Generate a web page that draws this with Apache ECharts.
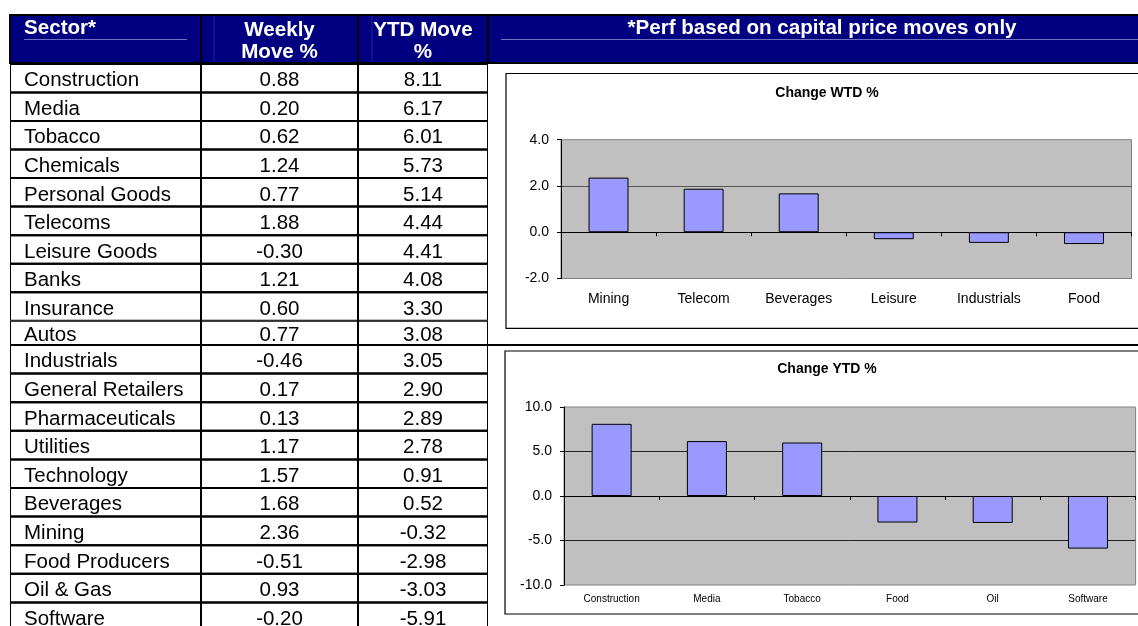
<!DOCTYPE html>
<html><head><meta charset="utf-8">
<script src="https://cdn.jsdelivr.net/npm/echarts@6/dist/echarts.min.js"></script>
<style>html,body{margin:0;padding:0;background:#fff}#c{width:1138px;height:626px}</style>
</head><body><div id="c"></div>
<script>
// ---------- data ----------
const sectors = ['Construction','Media','Tobacco','Chemicals','Personal Goods','Telecoms','Leisure Goods','Banks','Insurance','Autos','Industrials','General Retailers','Pharmaceuticals','Utilities','Technology','Beverages','Mining','Food Producers','Oil & Gas','Software'];
const weeklyMove = [0.88,0.20,0.62,1.24,0.77,1.88,-0.30,1.21,0.60,0.77,-0.46,0.17,0.13,1.17,1.57,1.68,2.36,-0.51,0.93,-0.20];
const ytdMove = [8.11,6.17,6.01,5.73,5.14,4.44,4.41,4.08,3.30,3.08,3.05,2.90,2.89,2.78,0.91,0.52,-0.32,-2.98,-3.03,-5.91];
const tableHeaders = ['Sector*', 'Weekly\nMove %', 'YTD Move\n%'];
const noteText = '*Perf based on capital price moves only';

const wtdTitle = 'Change WTD %';
const wtdCategories = ['Mining','Telecom','Beverages','Leisure','Industrials','Food'];
const wtdValues = [2.36,1.88,1.68,-0.30,-0.46,-0.51];
const wtdAxis = {min:-2, max:4, interval:2};

const ytdTitle = 'Change YTD %';
const ytdCategories = ['Construction','Media','Tobacco','Food','Oil','Software'];
const ytdValues = [8.11,6.17,6.01,-2.98,-3.03,-5.91];
const ytdAxis = {min:-10, max:10, interval:5};

// ---------- layout ----------
const FF = '"Liberation Sans", Arial, Helvetica, sans-serif';
const H = 626;
const tableLeft = 10, tableWidth = 478;
const colFrac = [0, 191/478, 348/478, 1];
// row blocks: [firstRow, endRow, top, bottom]
const blocks = [[0, 9, 64, 320.7], [9, 10, 320.7, 345], [10, 20, 345, 631]];

const chart = echarts.init(document.getElementById('c'), null, {renderer:'canvas'});

function tableRenderItem(params, api) {
  const local = api.value(1);
  const g = api.value(2);
  const c = api.coord([0, local]);
  const h = api.size([0, 1])[1];
  const cs = params.coordSys;
  const top = c[1] - h / 2;
  const texts = [sectors[g], weeklyMove[g].toFixed(2), ytdMove[g].toFixed(2)];
  const children = [];
  for (let k = 0; k < 3; k++) {
    const x0 = cs.x + cs.width * colFrac[k], x1 = cs.x + cs.width * colFrac[k + 1];
    children.push({type:'rect', shape:{x:x0, y:top, width:x1 - x0, height:h},
      style:{fill:'none', stroke:'#000', lineWidth:2}});
    children.push({type:'text', style:{text:texts[k], x: k === 0 ? x0 + 14 : (x0 + x1) / 2, y: c[1] + 2.5,
      align: k === 0 ? 'left' : 'center', verticalAlign:'middle', font:'20.5px ' + FF, fill:'#000'}});
  }
  return {type:'group', children};
}

const grids = [], xAxes = [], yAxes = [], series = [];
blocks.forEach((b, bi) => {
  const n = b[1] - b[0];
  const visBottom = Math.min(b[3], H);
  const visRows = n * (visBottom - b[2]) / (b[3] - b[2]);
  grids.push({left:tableLeft, top:b[2], width:tableWidth, height:visBottom - b[2], show:false});
  xAxes.push({gridIndex:bi, type:'value', min:0, max:1, show:false});
  yAxes.push({gridIndex:bi, type:'value', inverse:true, show:false, min:-0.5, max:-0.5 + visRows});
  const d = [];
  for (let r = b[0]; r < b[1]; r++) d.push([0, r - b[0], r]);
  series.push({type:'custom', xAxisIndex:bi, yAxisIndex:bi, renderItem:tableRenderItem,
    encode:{x:0, y:1}, data:d, silent:true, clip:true});
});

function addBarChart(gridDef, cats, vals, ax, labelSize, labelMargin, splitColor) {
  const gi = grids.length;
  grids.push(Object.assign({show:true, backgroundColor:'#C0C0C0', borderColor:'#808080', borderWidth:1}, gridDef));
  const xi = xAxes.length;
  xAxes.push({gridIndex:gi, type:'category', data:cats, position:'bottom',
    axisLine:{show:false, onZero:false}, axisTick:{show:false},
    axisLabel:{fontSize:labelSize, color:'#000', margin:labelMargin, fontFamily:FF, interval:0}});
  xAxes.push({gridIndex:gi, type:'category', data:cats, position:'bottom',
    axisLine:{show:true, onZero:true, lineStyle:{color:'#000', width:1}},
    axisTick:{show:true, length:4, lineStyle:{color:'#000'}}, axisLabel:{show:false}});
  const yi = yAxes.length;
  yAxes.push({gridIndex:gi, type:'value', min:ax.min, max:ax.max, interval:ax.interval,
    axisLine:{show:true, lineStyle:{color:'#000'}}, axisTick:{show:true, length:4, lineStyle:{color:'#000'}},
    axisLabel:{formatter:v => v.toFixed(1), fontSize:14, color:'#000', margin:12, fontFamily:FF},
    splitLine:{show:true, showMinLine:false, showMaxLine:false, lineStyle:{color:splitColor, width:1}}});
  series.push({type:'bar', xAxisIndex:xi, yAxisIndex:yi, data:vals, barWidth:'42%',
    itemStyle:{color:'#9999FF', borderColor:'#000', borderWidth:1}, silent:true, animation:false});
}
addBarChart({left:561, top:139.7, width:570.5, height:138.8}, wtdCategories, wtdValues, wtdAxis, 14, 14, '#555');
addBarChart({left:564, top:407, width:571.6, height:178}, ytdCategories, ytdValues, ytdAxis, 10, 9, '#222');

const headerFont = 'bold 20.6px ' + FF;
const graphics = [
  // header band
  {type:'rect', shape:{x:10, y:15, width:1140, height:48}, style:{fill:'#000080', stroke:'#000', lineWidth:2}, z:10},
  // faint inner header lines
  {type:'line', shape:{x1:24, y1:39.5, x2:187, y2:39.5}, style:{stroke:'#7070c0', lineWidth:1}, z:11},
  {type:'line', shape:{x1:501, y1:39.5, x2:1138, y2:39.5}, style:{stroke:'#7070c0', lineWidth:1}, z:11},
  {type:'line', shape:{x1:214, y1:16, x2:214, y2:62}, style:{stroke:'#2020a0', lineWidth:1}, z:11},
  {type:'line', shape:{x1:372, y1:16, x2:372, y2:62}, style:{stroke:'#2020a0', lineWidth:1}, z:11},
  // header column dividers
  {type:'line', shape:{x1:201, y1:15, x2:201, y2:64}, style:{stroke:'#000', lineWidth:2}, z:12},
  {type:'line', shape:{x1:358, y1:15, x2:358, y2:64}, style:{stroke:'#000', lineWidth:2}, z:12},
  {type:'line', shape:{x1:488, y1:15, x2:488, y2:64}, style:{stroke:'#000', lineWidth:2}, z:12},
  // header texts
  {type:'text', x:24, y:28.8, style:{text:tableHeaders[0], font:headerFont, fill:'#fff', align:'left', verticalAlign:'middle'}, z:13},
  {type:'text', x:279.5, y:41.4, style:{text:tableHeaders[1], font:headerFont, fill:'#fff', align:'center', verticalAlign:'middle', lineHeight:22.6}, z:13},
  {type:'text', x:423, y:41.4, style:{text:tableHeaders[2], font:headerFont, fill:'#fff', align:'center', verticalAlign:'middle', lineHeight:22.6}, z:13},
  {type:'text', x:822, y:28.8, style:{text:noteText, font:headerFont, fill:'#fff', align:'center', verticalAlign:'middle'}, z:13},
  // separator line between the two chart areas
  {type:'line', shape:{x1:488, y1:345, x2:1140, y2:345}, style:{stroke:'#000', lineWidth:2}, z:12},
  // chart boxes
  {type:'rect', shape:{x:506, y:73.5, width:640, height:254.8}, style:{fill:'none', stroke:'#000', lineWidth:1.2}, z:1},
  {type:'rect', shape:{x:505, y:351, width:640, height:263}, style:{fill:'none', stroke:'#000', lineWidth:1.2}, z:1},
  // chart titles
  {type:'text', x:827, y:93.5, style:{text:wtdTitle, font:'bold 14px ' + FF, fill:'#000', align:'center', verticalAlign:'middle'}, z:13},
  {type:'text', x:827, y:369, style:{text:ytdTitle, font:'bold 14px ' + FF, fill:'#000', align:'center', verticalAlign:'middle'}, z:13}
];

chart.setOption({
  backgroundColor:'#fff',
  animation:false,
  grid:grids, xAxis:xAxes, yAxis:yAxes, series:series,
  graphic:{elements:graphics}
});
</script></body></html>
